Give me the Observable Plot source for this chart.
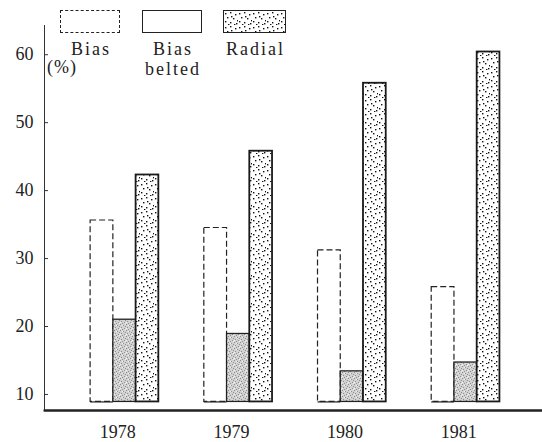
<!DOCTYPE html>
<html>
<head>
<meta charset="utf-8">
<script src="https://cdn.jsdelivr.net/npm/d3@7"></script>
<script src="https://cdn.jsdelivr.net/npm/@observablehq/plot@0.6"></script>
<style>
  html, body { margin: 0; padding: 0; background: #fff; }
  #wrap { position: relative; width: 542px; height: 442px; font-family: "Liberation Serif", serif; color: #222; }
  #wrap > svg { position: absolute; left: 0; top: 0; }
  .sw { position: absolute; box-sizing: border-box; height: 23px; }
  .lab { position: absolute; font-size: 18px; line-height: 20px; letter-spacing: 2px; text-align: center; width: 80px; font-family: "Liberation Serif", serif; }
</style>
</head>
<body>
<div id="wrap"></div>
<script>
// ---- data ----
const years = ["1978", "1979", "1980", "1981"];
const types = ["Bias", "Bias belted", "Radial"];
const bias = [35.6, 34.5, 31.2, 25.8];
const belted = [21.0, 18.9, 13.4, 14.7];
const radial = [42.3, 45.8, 55.8, 60.4];
const yTicks = [10, 20, 30, 40, 50, 60];
const baseValue = 8.9;      // bars start slightly below the 10 line
const yMin = 7.64, yMax = 64.3;

// ---- table ----
const series = {"Bias": bias, "Bias belted": belted, "Radial": radial};
const rows = years.flatMap((yr, i) => types.map(t => ({year: yr, type: t, value: series[t][i], key: yr + "|" + t})));
// slot domain: three bars per year, two empty slots between groups
const slots = years.flatMap((yr, i) => {
  const s = types.map(t => yr + "|" + t);
  return i < years.length - 1 ? s.concat([yr + "|gapA", yr + "|gapB"]) : s;
});
const byType = t => rows.filter(d => d.type === t);

const chart = Plot.plot({
  width: 542,
  height: 442,
  marginLeft: 44,
  marginRight: 0,
  marginTop: 25,
  marginBottom: 32,
  style: {fontFamily: "Liberation Serif, serif", fontSize: "18px", color: "#222", background: "white"},
  x: {type: "band", domain: slots, paddingInner: 0, paddingOuter: 1.95, align: 0.52, round: false, axis: null},
  y: {domain: [yMin, yMax], axis: null},
  marks: [
    Plot.axisY({ticks: yTicks, tickSize: -4, tickPadding: 15, fontSize: 18, label: null, stroke: "#333"}),
    Plot.frame({anchor: "left", stroke: "#333"}),
    Plot.barY(byType("Bias"), {x: "key", y1: () => baseValue, y2: "value", fill: "white", stroke: "#222", strokeWidth: 1.2, strokeDasharray: "6,3"}),
    Plot.tickY(byType("Bias"), {x: "key", y: () => baseValue, stroke: "#222", strokeWidth: 1.2}),
    Plot.barY(byType("Bias belted"), {x: "key", y1: () => baseValue, y2: "value", fill: "url(#beltedPat)", stroke: "#222", strokeWidth: 1.3}),
    Plot.barY(byType("Radial"), {x: "key", y1: () => baseValue, y2: "value", fill: "url(#radialPat)", stroke: "#1a1a1a", strokeWidth: 1.8}),
    Plot.text(years, {x: d => d + "|Bias belted", frameAnchor: "bottom", dy: 15, dx: -7, lineAnchor: "top", fontSize: 18, fill: "#222"}),
    Plot.frame({anchor: "bottom", stroke: "#222", strokeWidth: 2}),
    Plot.ruleY([yMin], {stroke: "#222", strokeWidth: 2})
  ]
});

// ---- textures ----
const defs = d3.select(chart).append("defs");
const rp = defs.append("pattern").attr("id", "radialPat").attr("patternUnits", "userSpaceOnUse").attr("width", 14).attr("height", 14);
rp.append("rect").attr("width", 14).attr("height", 14).attr("fill", "white");
[[1,2],[6,1],[11,3],[3,6],[9,7],[13,9],[1,10],[6,11],[10,13],[4,13],[7,5],[12,12]].forEach(([cx, cy]) =>
  rp.append("rect").attr("x", cx).attr("y", cy).attr("width", 1.4).attr("height", 1.4).attr("fill", "#111"));
const bp = defs.append("pattern").attr("id", "beltedPat").attr("patternUnits", "userSpaceOnUse").attr("width", 6).attr("height", 6);
bp.append("rect").attr("width", 6).attr("height", 6).attr("fill", "#d2d2d2");
[[0,0],[3,1],[1,3],[4,4],[2,5],[5,2]].forEach(([cx, cy]) =>
  bp.append("rect").attr("x", cx).attr("y", cy).attr("width", 1).attr("height", 1).attr("fill", "#8f8f8f"));
[[2,1],[5,5],[0,4]].forEach(([cx, cy]) =>
  bp.append("rect").attr("x", cx).attr("y", cy).attr("width", 1).attr("height", 1).attr("fill", "#f2f2f2"));

const wrap = document.getElementById("wrap");
wrap.appendChild(chart);

// ---- legend (overlaid above the plot) ----
const legend = [
  {label: "Bias", left: 60, w: 60, style: "border:1.3px dashed #222;background:#fff;"},
  {label: "Bias<br>belted", left: 142, w: 60, style: "border:1.3px solid #222;background:#fff;"},
  {label: "Radial", left: 223, w: 63, style: "border:1.5px solid #222;", pat: true}
];
legend.forEach(it => {
  const sw = document.createElement("div");
  sw.className = "sw";
  sw.style.cssText = it.style + `left:${it.left}px;top:10px;width:${it.w}px;`;
  if (it.pat) {
    sw.innerHTML = `<svg width="${it.w}" height="23" style="display:block"><rect x="-2" y="-2" width="${it.w + 4}" height="27" fill="url(#radialPat)"/></svg>`;
    sw.style.overflow = "hidden";
  }
  wrap.appendChild(sw);
  const lb = document.createElement("div");
  lb.className = "lab";
  lb.innerHTML = it.label;
  lb.style.left = (it.left + it.w / 2 - 40 + 1) + "px";
  lb.style.top = "39px";
  wrap.appendChild(lb);
});
const unit = document.createElement("div");
unit.className = "lab";
unit.style.cssText = "left:47px;top:57px;width:auto;text-align:left;letter-spacing:1px;";
unit.textContent = "(%)";
wrap.appendChild(unit);
</script>
</body>
</html>
